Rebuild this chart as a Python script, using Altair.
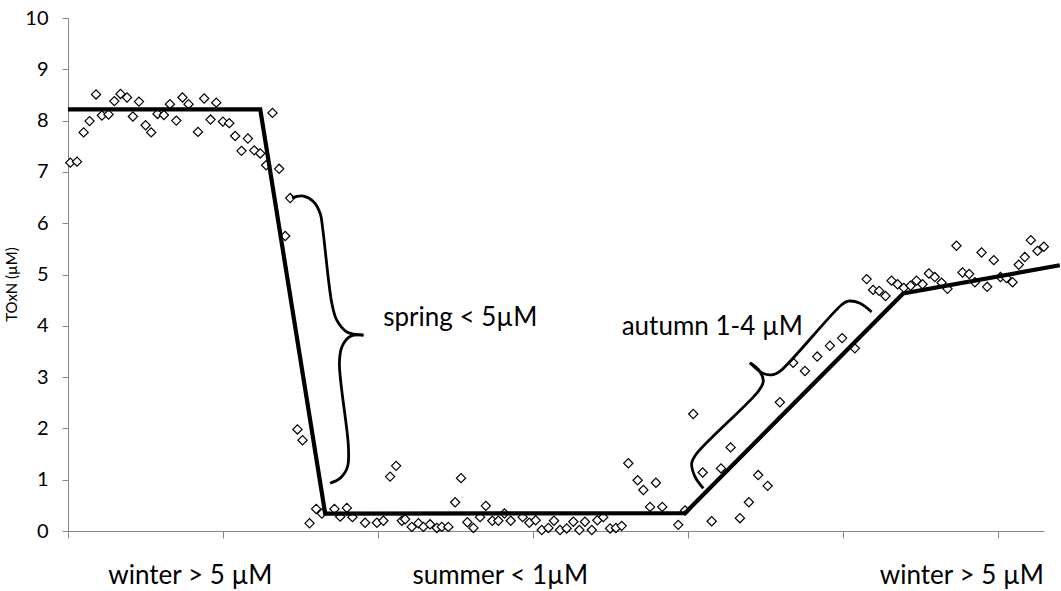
import altair as alt
import pandas as pd

# ---- data (x in arbitrary time units, tick every 10) ----
winter_x = [0.15, 0.58, 1.01, 1.39, 1.81, 2.19, 2.62, 2.99, 3.39, 3.81, 4.19, 4.58, 5.01, 5.37,
            5.78, 6.19, 6.58, 6.99, 7.39, 7.78, 8.39, 8.79, 9.2, 9.57, 10.0, 10.41, 10.79, 11.2,
            11.61, 12.02, 12.41, 12.79, 13.2, 13.63]
winter_y = [7.18, 7.20, 7.77, 7.99, 8.51, 8.10, 8.12, 8.38, 8.52, 8.45, 8.08, 8.37, 7.91, 7.77,
            8.13, 8.11, 8.32, 8.00, 8.45, 8.32, 7.78, 8.43, 8.02, 8.35, 7.98, 7.95, 7.70, 7.41,
            7.65, 7.42, 7.36, 7.13, 8.15, 7.06]

spring_x = [14.02, 14.34, 14.81, 15.14, 15.59, 16.02, 16.39, 17.2, 17.57, 18.0, 18.36]
spring_y = [5.75, 6.49, 1.98, 1.77, 0.15, 0.43, 0.34, 0.43, 0.28, 0.45, 0.27]

summer_x = [19.18, 19.94, 20.36, 20.79, 21.18, 21.55, 21.76, 22.19, 22.62, 22.94, 23.37, 23.81,
            24.13, 24.55, 24.99, 25.37, 25.78, 26.17, 26.6, 26.97, 27.39, 27.78, 28.17, 28.58,
            29.35, 29.78, 30.19, 30.58, 31.01, 31.37, 31.76, 32.19, 32.62, 33.01, 33.37, 33.81,
            34.17, 34.55, 34.99, 35.37, 35.74, 36.17, 36.77, 37.14, 37.57, 37.95, 38.36, 39.39,
            39.83]
summer_y = [0.16, 0.16, 0.20, 1.06, 1.27, 0.20, 0.23, 0.08, 0.15, 0.08, 0.13, 0.06,
            0.08, 0.08, 0.56, 1.03, 0.17, 0.06, 0.27, 0.49, 0.20, 0.20, 0.34, 0.20,
            0.27, 0.16, 0.21, 0.02, 0.06, 0.20, 0.02, 0.05, 0.18, 0.02, 0.18, 0.02,
            0.21, 0.27, 0.05, 0.06, 0.10, 1.32, 0.99, 0.80, 0.47, 0.94, 0.47, 0.12,
            0.40]

autumn_x = [40.36, 40.97, 41.55, 42.15, 42.77, 43.37, 43.95, 44.55, 45.16, 45.95, 46.81, 47.57,
            48.36, 49.18, 49.97, 50.79]
autumn_y = [2.28, 1.14, 0.19, 1.22, 1.63, 0.25, 0.56, 1.09, 0.88, 2.51, 3.28, 3.12,
            3.40, 3.61, 3.76, 3.56]

winter2_x = [51.55, 51.97, 52.36, 52.77, 53.16, 53.55, 53.95, 54.39, 54.77, 55.16, 55.57, 55.95,
             56.39, 56.77, 57.35, 57.74, 58.17, 58.54, 58.97, 59.33, 59.76, 60.19, 60.58, 60.97,
             61.37, 61.76, 62.15, 62.58, 62.99]
winter2_y = [4.91, 4.70, 4.68, 4.58, 4.88, 4.81, 4.74, 4.78, 4.88, 4.81, 5.02, 4.95,
             4.84, 4.72, 5.56, 5.04, 5.01, 4.85, 5.43, 4.76, 5.28, 4.95, 4.93, 4.85,
             5.19, 5.34, 5.67, 5.46, 5.54]

# piecewise seasonal trend line
trend_x = [0, 12.41, 16.6, 39.83, 53.91, 64.02]
trend_y = [8.22, 8.22, 0.34, 0.35, 4.63, 5.18]

# curly braces (each half ends at the brace tip)
spring_brace_top_x = [14.45, 15.2, 15.85, 16.28, 16.45, 17.03, 17.35, 18.0, 19.07]
spring_brace_top_y = [6.50, 6.53, 6.42, 6.19, 5.87, 4.44, 4.11, 3.88, 3.82]
spring_brace_bot_x = [19.07, 18.21, 17.68, 17.52, 18.1, 18.04, 17.57, 16.92]
spring_brace_bot_y = [3.82, 3.79, 3.59, 3.27, 1.64, 1.25, 1.03, 0.93]
autumn_brace_low_x = [41.01, 40.47, 40.26, 40.58, 44.55, 44.88, 44.66, 44.02]
autumn_brace_low_y = [0.83, 1.06, 1.32, 1.51, 2.72, 2.91, 3.11, 3.28]
autumn_brace_up_x = [44.02, 44.88, 45.52, 45.95, 49.94, 50.36, 51.12, 51.87]
autumn_brace_up_y = [3.28, 3.07, 3.05, 3.11, 4.41, 4.48, 4.44, 4.27]

note_text = ["spring < 5µM", "autumn 1-4 µM"]
note_x = [20.35, 35.74]
note_y = [4.0, 3.82]

season_text = ["winter > 5 µM", "summer < 1µM", "winter > 5 µM"]
season_x = [7.9, 27.9, 57.7]
season_y = [-1.03, -1.03, -1.03]

y_ticks = list(range(0, 11))
x_ticks = [0, 10, 20, 30, 40, 50, 60]

# ---- tables ----
pts = pd.DataFrame({
    "x": winter_x + spring_x + summer_x + autumn_x + winter2_x,
    "y": winter_y + spring_y + summer_y + autumn_y + winter2_y,
})
trend = pd.DataFrame({"x": trend_x, "y": trend_y, "i": list(range(len(trend_x)))})

segs = [("s1", spring_brace_top_x, spring_brace_top_y),
        ("s2", spring_brace_bot_x, spring_brace_bot_y),
        ("a1", autumn_brace_low_x, autumn_brace_low_y),
        ("a2", autumn_brace_up_x, autumn_brace_up_y)]
rows = []
for name, xs, ys in segs:
    for i, (a, b) in enumerate(zip(xs, ys)):
        rows.append({"x": a, "y": b, "seg": name, "i": i})
braces = pd.DataFrame(rows)

notes = pd.DataFrame({"x": note_x, "y": note_y, "t": note_text})
seasons = pd.DataFrame({"x": season_x, "y": season_y, "t": season_text})

FONT = "Lato"
GRAY = "#868686"

X = alt.X("x:Q", scale=alt.Scale(domain=[0, 63], nice=False, zero=False),
          axis=alt.Axis(values=x_ticks, labels=False, title=None, grid=False,
                        tickSize=7, tickColor=GRAY, domainColor=GRAY))
Y = alt.Y("y:Q", scale=alt.Scale(domain=[0, 10], nice=False),
          axis=alt.Axis(values=y_ticks, grid=False, title="TOxN (µM)",
                        tickSize=6, tickColor=GRAY, domainColor=GRAY,
                        labelFontSize=20, labelColor="#000000", labelPadding=14,
                        labelFont=FONT, titleFont=FONT, titleFontSize=15,
                        titleFontWeight="normal", titleColor="#000000",
                        titleX=-57, titleY=266, titleAngle=270,
                        titleAlign="center", titleBaseline="middle"))

points = alt.Chart(pts).mark_point(
    shape="diamond", size=85, filled=True, fill="white", stroke="black",
    strokeWidth=1.2, opacity=1
).encode(x=X, y=Y)

trend_line = alt.Chart(trend).mark_line(color="black", strokeWidth=4.2).encode(
    x=X, y=Y, order="i:Q")

brace_lines = alt.Chart(braces).mark_line(
    color="black", strokeWidth=2.8, interpolate="catmull-rom"
).encode(x=X, y=Y, detail="seg:N", order="i:Q")

note_marks = alt.Chart(notes).mark_text(
    font=FONT, fontSize=26, align="left", baseline="alphabetic", color="#000000"
).encode(x=X, y=Y, text="t:N")

season_marks = alt.Chart(seasons).mark_text(
    font=FONT, fontSize=26, align="center", baseline="alphabetic", color="#000000"
).encode(x=X, y=Y, text="t:N")

chart = alt.layer(points, trend_line, brace_lines, note_marks, season_marks).properties(
    width=976, height=513,
    autosize=alt.AutoSizeParams(type="none"),
    padding={"left": 68, "top": 18, "right": 17, "bottom": 60},
    background="white",
).configure_view(stroke=None)

chart.save("out.html", embed_options={"renderer": "svg", "actions": False})
